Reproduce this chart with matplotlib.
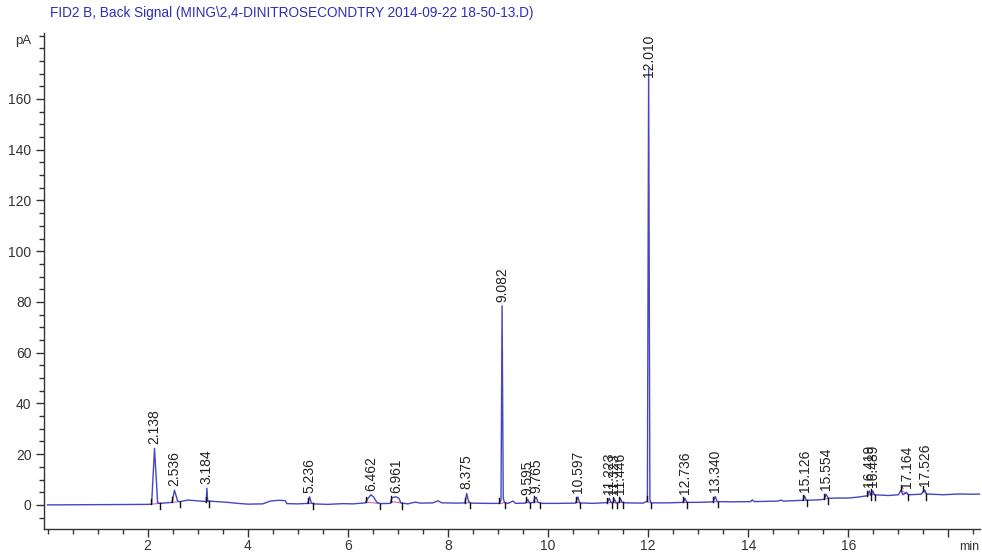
import numpy as np
import matplotlib
matplotlib.use("Agg")
import matplotlib.pyplot as plt
from matplotlib.ticker import MultipleLocator, FixedLocator

plt.rcParams['font.family'] = ['Liberation Sans', 'DejaVu Sans']

# ---------------- data ----------------
title_text = r"FID2 B, Back Signal (MING\2,4-DINITROSECONDTRY 2014-09-22 18-50-13.D)"

trace_t = [0.0, 1.0, 2.0, 2.08, 2.138, 2.20, 2.25, 2.45, 2.49, 2.536, 2.60, 2.65,
           2.8, 3.0, 3.15, 3.17, 3.184, 3.20, 3.3, 3.6, 3.8, 4.0, 4.3, 4.45, 4.6,
           4.75, 4.78, 5.0, 5.20, 5.236, 5.27, 5.32, 5.6, 5.9, 6.1, 6.35, 6.40,
           6.462, 6.52, 6.58, 6.65, 6.85, 6.88, 6.961, 7.02, 7.06, 7.2, 7.35, 7.45,
           7.7, 7.8, 7.88, 8.2, 8.34, 8.375, 8.41, 8.45, 8.8, 9.03, 9.06, 9.082,
           9.105, 9.13, 9.2, 9.3, 9.35, 9.55, 9.595, 9.63, 9.70, 9.74, 9.765, 9.80,
           9.9, 10.2, 10.55, 10.597, 10.63, 10.9, 11.18, 11.223, 11.26, 11.30,
           11.323, 11.36, 11.42, 11.446, 11.48, 11.55, 11.9, 11.985, 12.010, 12.035,
           12.06, 12.4, 12.70, 12.736, 12.77, 13.0, 13.30, 13.340, 13.38, 13.7,
           14.05, 14.08, 14.12, 14.6, 14.65, 14.7, 15.09, 15.126, 15.16, 15.4,
           15.52, 15.554, 15.6, 15.8, 16.0, 16.2, 16.38, 16.419, 16.45, 16.489,
           16.52, 16.8, 17.0, 17.05, 17.09, 17.164, 17.2, 17.45, 17.526, 17.56,
           17.9, 18.2, 18.5, 18.65]
trace_y = [0.0, 0.1, 0.2, 0.3, 22.3, 0.8, 0.6, 0.9, 1.0, 5.8, 1.5, 1.3,
           1.9, 1.6, 1.3, 1.3, 6.6, 1.5, 1.4, 1.0, 0.6, 0.3, 0.4, 1.5, 1.8,
           1.7, 0.5, 0.4, 0.6, 3.2, 0.8, 0.4, 0.2, 0.5, 0.4, 0.8, 2.5,
           4.0, 3.0, 1.0, 0.5, 0.6, 2.8, 3.2, 2.6, 0.8, 0.4, 1.1, 0.7,
           0.8, 1.6, 0.8, 0.7, 0.8, 4.5, 1.5, 0.7, 0.6, 0.6, 2.0, 78.5,
           2.5, 1.0, 0.6, 1.5, 0.6, 0.7, 2.2, 0.8, 0.9, 2.6, 3.0, 1.0,
           0.6, 0.6, 0.7, 3.1, 0.8, 0.6, 0.9, 2.6, 0.9, 1.0,
           2.4, 0.8, 1.0, 2.6, 1.0, 0.8, 0.7, 1.5, 172.0, 2.0,
           0.8, 0.8, 1.0, 2.6, 1.0, 1.0, 1.2, 3.3, 1.3, 1.2,
           1.3, 2.0, 1.3, 1.5, 1.9, 1.5, 1.8, 3.5, 1.8, 2.0,
           2.2, 4.2, 2.6, 2.7, 2.7, 3.1, 3.6, 5.5, 3.8, 5.5,
           4.0, 3.7, 4.0, 5.8, 4.0, 4.9, 4.0, 4.2, 5.9, 4.3,
           4.0, 4.3, 4.2, 4.3]

peak_rt = [2.138, 2.536, 3.184, 5.236, 6.462, 6.961, 8.375, 9.082, 9.595, 9.765,
           10.597, 11.223, 11.323, 11.446, 12.010, 12.736, 13.340, 15.126, 15.554,
           16.419, 16.489, 17.164, 17.526]
peak_label = ["2.138", "2.536", "3.184", "5.236", "6.462", "6.961", "8.375", "9.082",
              "9.595", "9.765", "10.597", "11.223", "11.323", "11.446", "12.010",
              "12.736", "13.340", "15.126", "15.554", "16.419", "16.489", "17.164",
              "17.526"]
peak_height = [22.3, 5.8, 6.6, 3.2, 4.0, 3.2, 4.5, 78.5, 2.2, 3.0, 3.1, 2.6, 2.4,
               2.6, 172.0, 2.6, 3.3, 3.5, 4.2, 5.5, 5.5, 4.9, 5.9]
peak_start = [2.07, 2.48, 3.16, 5.20, 6.36, 6.86, 8.34, 9.03, 9.56, 9.71, 10.56,
              11.18, 11.29, 11.41, 11.97, 12.70, 13.30, 15.09, 15.51, 16.38, 16.46,
              17.05, 17.50]
peak_end = [2.25, 2.65, 3.22, 5.30, 6.65, 7.08, 8.44, 9.15, 9.64, 9.83, 10.64,
            11.27, 11.37, 11.49, 12.06, 12.78, 13.40, 15.17, 15.60, 16.46, 16.53,
            17.20, 17.56]

x_ticks_major = [2, 4, 6, 8, 10, 12, 14, 16, 18]
x_tick_labels = ["2", "4", "6", "8", "10", "12", "14", "16", ""]
y_ticks_major = [0, 20, 40, 60, 80, 100, 120, 140, 160]

# ---------------- figure ----------------
W, H = 982, 554
fig = plt.figure(figsize=(W / 100, H / 100), dpi=100)
ax_l, ax_r, ax_t, ax_b = 44, 980, 33, 529
ax = fig.add_axes([ax_l / W, 1 - ax_b / H, (ax_r - ax_l) / W, (ax_b - ax_t) / H])

line_col = '#4545c6'
ax.plot(trace_t, trace_y, color=line_col, lw=1.0, zorder=3)

# integration baselines (pink) and start/stop tick marks
tt = np.array(trace_t); ty = np.array(trace_y)
for s, e in zip(peak_start, peak_end):
    ys = np.interp(s, tt, ty); ye = np.interp(e, tt, ty)
    ax.plot([s, e], [ys, ye], color='#e060a0', lw=0.8, zorder=2)
    ax.plot([s, s], [ys, ys + 2.0], color='#111111', lw=1.0, zorder=4)
    ax.plot([e, e], [ye, ye - 2.2], color='#111111', lw=1.0, zorder=4)

ymin, ymax = -9.5, 186
ax.set_xlim(-0.07, 18.63)
ax.set_ylim(ymin, ymax)

for rt, lab, h in zip(peak_rt, peak_label, peak_height):
    if h > 150:
        ax.annotate(lab, xy=(rt, ymax), xytext=(0, -1), textcoords='offset points',
                    rotation=90, ha='center', va='top', fontsize=10,
                    color='#222222', zorder=5)
    else:
        ax.annotate(lab, xy=(rt, h), xytext=(0, 3), textcoords='offset points',
                    rotation=90, ha='center', va='bottom', fontsize=10,
                    color='#222222', zorder=5)

for side in ['top', 'right']:
    ax.spines[side].set_visible(False)
for side in ['left', 'bottom']:
    ax.spines[side].set_color('#333333')
    ax.spines[side].set_linewidth(1.0)

ax.xaxis.set_major_locator(FixedLocator(x_ticks_major))
ax.set_xticklabels(x_tick_labels)
ax.xaxis.set_minor_locator(MultipleLocator(0.5))
ax.yaxis.set_major_locator(FixedLocator(y_ticks_major))
ax.yaxis.set_minor_locator(MultipleLocator(5))

ax.tick_params(axis='both', which='major', direction='out', length=6, width=1,
               color='#333333', labelsize=10, labelcolor='#333333')
ax.tick_params(axis='both', which='minor', direction='out', length=3.5, width=1,
               color='#333333')
ax.tick_params(axis='x', which='major', pad=1.5)
ax.tick_params(axis='y', which='major', pad=3)

fig.text(50 / W, 1 - 13 / H, title_text, color='#2e2eb8', fontsize=9.8,
         ha='left', va='center')
fig.text(31 / W, 1 - 41 / H, "pA", color='#333333', fontsize=9.5,
         ha='right', va='center')
fig.text(969 / W, 1 - 547 / H, "min", color='#333333', fontsize=9,
         ha='center', va='center')

fig.savefig('out.png', dpi=100)
